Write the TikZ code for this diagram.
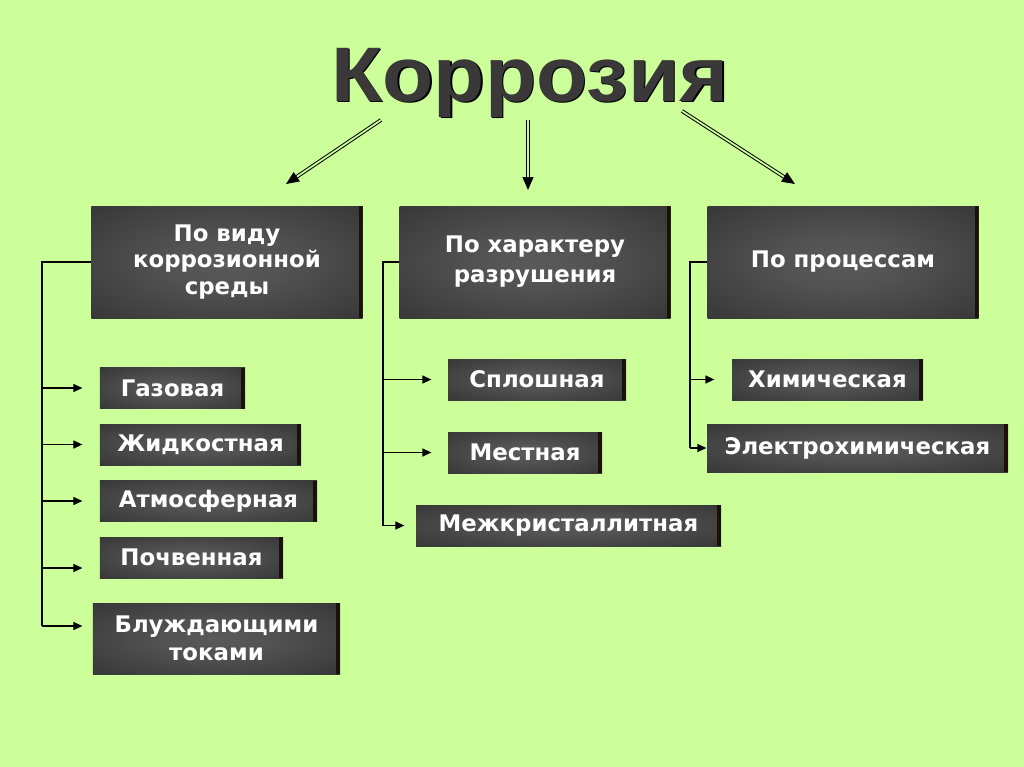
\documentclass[tikz,border=0pt]{standalone}
\usepackage{fontspec}
\setmainfont{DejaVu Sans}
\newfontfamily\titlefont{Liberation Sans}
\usepackage{tikz}
\usetikzlibrary{arrows.meta}
\usetikzlibrary{calc}

\definecolor{bggreen}{RGB}{204,255,153}
\definecolor{boxedge}{RGB}{34,34,34}
\definecolor{boxmid}{RGB}{90,90,90}
\definecolor{boxshade}{RGB}{28,16,10}
\definecolor{titlegray}{RGB}{58,56,56}
\pgfdeclareradialshading{boxglow}{\pgfpoint{0bp}{0bp}}{color(0bp)=(boxmid); color(12bp)=(boxmid!85!boxedge); color(55bp)=(boxedge); color(80bp)=(boxedge)}

\begin{document}
\begin{tikzpicture}[x=0.2mm,y=-0.2mm,line width=0.25mm,
                    >={Triangle[length=1.8mm,width=1.6mm]},
                    head box/.style={rectangle,shading=boxglow,text=white,
                        align=center,font=\bfseries\fontsize{13}{15.3}\selectfont,
                        minimum width=54.2mm,minimum height=22.4mm,
                        path picture={\fill[boxshade] ([xshift=-0.8mm]path picture bounding box.north east)
                            rectangle (path picture bounding box.south east);}},
                    item box/.style={head box,minimum height=8.2mm},
                    fork/.style={->,shorten >=#1},
                    main arrow/.style={double=bggreen,double distance=0.35mm,line width=0.2mm,
                        -{Triangle[length=2.6mm,width=2.2mm]}},
                    title text/.style={font=\titlefont\bfseries\fontsize{44}{44}\selectfont,anchor=base}]

		\fill[bggreen] (0,0) rectangle (1024,767);
		\useasboundingbox (0,0) rectangle (1024,767);

		% title
		\node[title text,text=black] (titleshade) at (531.5,102.5) {\scalebox{1.085}[1]{Коррозия}};
		\node[title text,text=titlegray] (title) at (530,101) {\scalebox{1.085}[1]{Коррозия}};

		% three groups
		\node[head box] (medium) at (227,262) {По виду\\коррозионной\\среды};
		\node[head box,font=\bfseries\fontsize{13}{17}\selectfont] (damage) at (535,262) {По характеру\\разрушения};
		\node[head box] (process) at (843,262) {По процессам};

		\coordinate (leftfrom) at (381,120);
		\coordinate (leftto) at (286,184);
		\coordinate (midfrom) at (528,120);
		\coordinate (midto) at (528,190);
		\coordinate (rightfrom) at (682,111);
		\coordinate (rightto) at (795,184);
		\draw[main arrow] (leftfrom) -- (leftto);
		\draw[main arrow] (midfrom) -- (midto);
		\draw[main arrow] (rightfrom) -- (rightto);

		% by medium
		\node[item box,minimum width=29mm] (gas) at (172.5,388) {Газовая};
		\node[item box,minimum width=40.2mm] (liquid) at (200.5,444.5) {Жидкостная};
		\node[item box,minimum width=43.4mm] (air) at (208.5,501) {Атмосферная};
		\node[item box,minimum width=36.6mm] (soil) at (191.5,557.5) {Почвенная};
		\node[item box,minimum width=49.4mm,minimum height=14.2mm,
		      font=\bfseries\fontsize{13}{16}\selectfont] (stray) at (216.5,638.5) {Блуждающими\\токами};

		\coordinate (mediumfork) at (42,262);
		\coordinate (mediumend) at ($(mediumfork |- stray.west)+(0,-12.5)$);
		\coordinate (soilin) at ($(mediumfork |- soil.west)+(0,10.5)$);
		\draw (medium.west) -- (mediumfork) -- (mediumend);
		\draw[fork=3.4mm] (mediumfork |- gas.west) -- (gas.west);
		\draw[fork=3.4mm] (mediumfork |- liquid.west) -- (liquid.west);
		\draw[fork=3.4mm] (mediumfork |- air.west) -- (air.west);
		\draw[fork=3.4mm] (soilin) -- (soilin -| soil.west);
		\draw[fork=2mm] (mediumend) -- (mediumend -| stray.west);

		% by damage
		\node[item box,minimum width=35.6mm] (solid) at (537,379.5) {Сплошная};
		\node[item box,minimum width=30.8mm] (local) at (525,452.5) {Местная};
		\node[item box,minimum width=61mm] (inter) at (568.5,525.5) {Межкристаллитная};

		\coordinate (damagefork) at (383,262);
		\draw (damage.west) -- (damagefork) -- (damagefork |- inter.west);
		\draw[fork=3.2mm] (damagefork |- solid.west) -- (solid.west);
		\draw[fork=3.2mm] (damagefork |- local.west) -- (local.west);
		\draw[fork=2.2mm] (damagefork |- inter.west) -- (inter.west);

		% by process
		\node[item box,minimum width=38.2mm] (chem) at (827.5,379.5) {Химическая};
		\node[item box,minimum width=60.2mm,minimum height=9.6mm] (electro) at (857.5,448) {Электрохимическая};

		\coordinate (processfork) at (690,262);
		\draw (process.west) -- (processfork) -- (processfork |- electro.west);
		\draw[fork=3.4mm] (processfork |- chem.west) -- (chem.west);
		\draw[fork=0mm] (processfork |- electro.west) -- (electro.west);
	\end{tikzpicture}
\end{document}
